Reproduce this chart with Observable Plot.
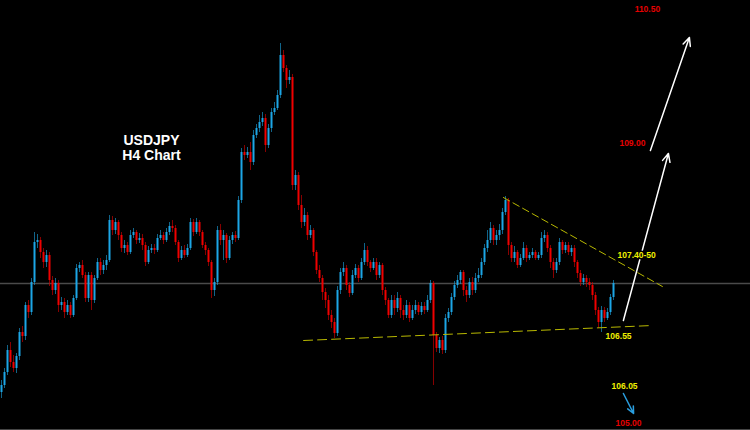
<!DOCTYPE html>
<html><head><meta charset="utf-8">
<script src="https://cdn.jsdelivr.net/npm/d3@7"></script>
<script src="https://cdn.jsdelivr.net/npm/@observablehq/plot@0.6"></script>
<style>html,body{margin:0;padding:0;background:#000;overflow:hidden}</style>
</head><body><div id="chart"></div>
<script>
// USDJPY H4 candles (price)
const firstOpen = 106.08;
const close = [
106.15,106.28,106.50,106.38,106.32,106.44,106.68,106.64,106.95,106.88,
107.18,107.58,107.60,107.48,107.38,107.45,107.20,107.10,107.17,106.95,
106.98,106.88,106.95,106.85,107.02,107.32,107.35,107.25,107.02,107.25,
107.00,107.22,107.38,107.30,107.35,107.40,107.80,107.70,107.78,107.65,
107.52,107.55,107.48,107.65,107.68,107.60,107.62,107.55,107.38,107.50,
107.52,107.50,107.62,107.65,107.60,107.68,107.74,107.72,107.58,107.42,
107.50,107.45,107.52,107.78,107.68,107.78,107.68,107.55,107.50,107.38,
107.10,107.18,107.70,107.60,107.65,107.42,107.60,107.65,107.62,108.00,
108.48,108.45,108.48,108.38,108.65,108.72,108.78,108.82,108.55,108.72,
108.88,108.92,109.05,109.45,109.32,109.20,109.23,108.15,108.25,107.95,
107.78,107.85,107.65,107.70,107.48,107.30,107.22,107.08,107.00,106.85,
106.78,106.67,107.10,107.28,107.32,107.15,107.07,107.25,107.32,107.22,
107.38,107.50,107.38,107.32,107.38,107.25,107.35,107.10,107.00,106.85,
107.00,106.92,107.02,106.90,106.85,106.95,106.82,106.90,106.95,106.88,
106.94,106.90,107.00,107.17,106.65,106.52,106.60,106.50,106.82,106.88,
107.03,107.15,107.20,107.28,107.10,107.05,107.18,107.10,107.22,107.25,
107.38,107.52,107.60,107.72,107.60,107.65,107.70,107.88,108.00,107.55,
107.42,107.48,107.35,107.42,107.52,107.42,107.45,107.48,107.42,107.45,
107.62,107.65,107.52,107.38,107.30,107.38,107.58,107.50,107.55,107.48,
107.52,107.38,107.27,107.18,107.22,107.18,107.15,107.05,106.90,106.78,
106.90,106.82,106.88,107.03,107.17
];
const high = [
106.20,106.32,106.55,106.58,106.45,106.47,106.72,106.74,106.98,107.00,
107.22,107.68,107.66,107.63,107.52,107.50,107.48,107.24,107.22,107.20,
107.03,107.02,107.00,106.98,107.05,107.36,107.38,107.40,107.28,107.28,
107.28,107.25,107.42,107.42,107.40,107.45,107.85,107.84,107.82,107.80,
107.68,107.60,107.58,107.70,107.72,107.70,107.67,107.66,107.58,107.54,
107.56,107.56,107.66,107.70,107.68,107.72,107.78,107.80,107.75,107.60,
107.54,107.55,107.56,107.82,107.81,107.82,107.80,107.70,107.58,107.52,
107.40,107.22,107.74,107.76,107.70,107.67,107.64,107.68,107.69,108.04,
108.52,108.55,108.53,108.58,108.70,108.76,108.85,108.88,108.86,108.76,
108.92,108.98,109.10,109.57,109.50,109.35,109.30,109.26,108.30,108.28,
108.05,107.92,107.88,107.75,107.72,107.50,107.35,107.25,107.12,107.05,
106.90,106.82,107.14,107.32,107.38,107.35,107.18,107.30,107.36,107.35,
107.42,107.57,107.54,107.40,107.42,107.42,107.38,107.37,107.13,107.02,
107.05,107.05,107.08,107.05,106.95,107.00,106.98,106.95,107.00,106.98,
106.98,106.98,107.05,107.20,107.19,106.68,106.63,106.64,106.86,106.92,
107.07,107.19,107.25,107.30,107.30,107.14,107.22,107.23,107.27,107.32,
107.42,107.56,107.70,107.78,107.75,107.70,107.76,107.92,108.04,108.02,
107.58,107.54,107.50,107.46,107.58,107.55,107.48,107.52,107.50,107.48,
107.68,107.70,107.68,107.55,107.42,107.42,107.62,107.60,107.58,107.58,
107.55,107.55,107.40,107.30,107.26,107.25,107.22,107.18,107.08,106.93,
106.94,106.93,106.92,107.06,107.20
];
const low = [
106.02,106.12,106.25,106.33,106.28,106.27,106.40,106.58,106.60,106.82,
106.85,107.15,107.52,107.42,107.32,107.33,107.14,107.05,107.06,106.88,
106.90,106.82,106.85,106.82,106.83,107.00,107.28,107.22,106.98,106.98,
106.90,106.97,107.20,107.25,107.26,107.30,107.38,107.65,107.66,107.60,
107.48,107.47,107.45,107.46,107.62,107.56,107.57,107.50,107.34,107.36,
107.47,107.46,107.48,107.60,107.56,107.58,107.65,107.68,107.55,107.38,
107.40,107.42,107.43,107.50,107.64,107.66,107.64,107.52,107.45,107.34,
107.02,107.04,107.15,107.55,107.40,107.37,107.40,107.56,107.58,107.60,
107.97,108.40,108.42,108.30,108.35,108.62,108.68,108.74,108.48,108.52,
108.68,108.85,108.90,109.02,109.28,109.12,109.16,108.10,108.10,107.90,
107.72,107.74,107.60,107.62,107.44,107.26,107.18,107.00,106.92,106.80,
106.72,106.62,106.64,107.06,107.24,107.10,107.03,107.05,107.22,107.18,
107.20,107.35,107.34,107.28,107.30,107.20,107.22,107.05,106.95,106.82,
106.82,106.85,106.88,106.82,106.80,106.82,106.78,106.80,106.86,106.85,
106.85,106.86,106.88,106.97,106.15,106.48,106.47,106.46,106.47,106.78,
106.85,107.00,107.12,107.16,107.04,106.98,107.02,107.05,107.07,107.18,
107.22,107.35,107.48,107.57,107.55,107.55,107.60,107.66,107.85,107.45,
107.38,107.38,107.32,107.33,107.40,107.38,107.40,107.42,107.40,107.40,
107.42,107.58,107.48,107.32,107.22,107.27,107.35,107.46,107.47,107.45,
107.44,107.33,107.22,107.14,107.15,107.13,107.10,107.00,106.85,106.72,
106.68,106.78,106.80,106.85,107.00
];

// Trend lines (candle index, price)
const resistanceX = [167.3, 220.3];
const resistanceY = [108.03, 107.14];
const supportX = [100.7, 217.0];
const supportY = [106.60, 106.75];

// Arrows (candle index, price)
const arrowX1 = [207.3, 216.3, 207.3];
const arrowY1 = [106.80, 108.50, 106.07];
const arrowX2 = [222.3, 229.3, 210.7];
const arrowY2 = [108.47, 109.63, 105.87];
const arrowColor = ["#ffffff", "#ffffff", "#2a9fe0"];

// Level labels
const labelText = ["110.50", "109.00", "107.40-50", "106.55", "106.05", "105.00"];
const labelX = [215.3, 210.3, 211.7, 205.7, 207.7, 209.0];
const labelY = [109.91, 108.57, 107.45, 106.64, 106.14, 105.77];
const labelColor = ["#e60000", "#e60000", "#f0f000", "#f0f000", "#f0f000", "#e60000"];

const titleText = "USDJPY\nH4 Chart";
const titleX = 50;
const titleY = 108.53;

const candles = close.map((c, i) => ({
  i, open: i === 0 ? firstOpen : close[i - 1], close: c, high: high[i], low: low[i]
}));
const isUp = d => d.close >= d.open;
const trend = (xs, ys) => xs.map((x, k) => ({x, y: ys[k]}));
const arrows = arrowX1.map((x1, k) => ({x1, y1: arrowY1[k], x2: arrowX2[k], y2: arrowY2[k], c: arrowColor[k]}));
const labels = labelText.map((t, k) => ({t, x: labelX[k], y: labelY[k], c: labelColor[k]}));

const chart = Plot.plot({
  width: 750, height: 430, margin: 0,
  style: {background: "#000", fontFamily: "'Liberation Sans', Arial, sans-serif"},
  x: {type: "linear", domain: [-1/3, 749/3], axis: null},
  y: {type: "linear", domain: [105.70, 110.00], axis: null},
  color: {type: "identity"},
  marks: [
    Plot.ruleY([close[close.length - 1]], {stroke: "#4a4a4a", strokeWidth: 1.5}),
    Plot.ruleX(candles, {x: "i", y1: "low", y2: "high", stroke: d => isUp(d) ? "#1a9bd4" : "#d00000", strokeOpacity: 0.65, strokeWidth: 1}),
    Plot.ruleX(candles, {x: "i", y1: "open", y2: "close", stroke: d => isUp(d) ? "#1ca6e6" : "#f00000", strokeWidth: 2}),
    Plot.line(trend(resistanceX, resistanceY), {x: "x", y: "y", stroke: "#b8b800", strokeWidth: 1, strokeDasharray: "7,4"}),
    Plot.line(trend(supportX, supportY), {x: "x", y: "y", stroke: "#b8b800", strokeWidth: 1, strokeDasharray: "9,5"}),
    Plot.arrow(arrows, {x1: "x1", y1: "y1", x2: "x2", y2: "y2", stroke: "c", strokeWidth: 1.5, headLength: 9, headAngle: 50}),
    Plot.text(labels, {x: "x", y: "y", text: "t", fill: "c", fontSize: 8.5, fontWeight: "bold", stroke: "#000", strokeWidth: 3, textAnchor: "middle"}),
    Plot.text([titleText], {x: () => titleX, y: () => titleY, text: d => d, fill: "#ffffff", fontSize: 14, fontWeight: "bold", lineHeight: 1.1, textAnchor: "middle"}),
    Plot.frame({anchor: "bottom", stroke: "#8a8a8a", strokeWidth: 2})
  ]
});
document.getElementById("chart").appendChild(chart);
</script>
</body></html>
